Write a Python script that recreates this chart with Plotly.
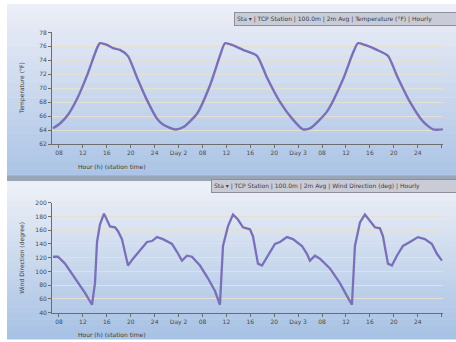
import plotly.graph_objects as go

W, H = 456, 342

# ---------------- data ----------------
top_hours = [0.17, 1.34, 2.68, 4.18, 5.85, 7.53, 8.03, 9.2, 10.2, 11.37, 12.71, 14.21, 15.89, 17.56,
             18.56, 20.57, 21.91, 24.25, 26.42, 28.09, 28.93, 30.1, 31.94, 34.28, 35.95, 38.13, 40.3,
             41.97, 43.14, 45.99, 48.66, 50.33, 51.17, 52.34, 54.35, 56.19, 57.69, 59.87, 62.04, 63.71, 65.38]
top_temp = [64.25, 64.95, 66.2, 68.45, 71.8, 75.75, 76.45, 76.2, 75.75, 75.5, 74.6, 71.55, 68.3, 65.65,
            64.8, 64.1, 64.4, 66.35, 70.4, 74.65, 76.45, 76.2, 75.5, 74.65, 71.55, 68.05, 65.5,
            64.1, 64.25, 66.65, 71.25, 75.05, 76.45, 76.2, 75.5, 74.65, 71.8, 68.05, 65.25, 64.1, 64.1]

bot_hours = [0.17, 1.0, 2.17, 3.85, 5.52, 6.69, 7.19, 7.53, 8.03, 8.7, 9.7, 10.54, 11.04, 11.7, 12.71,
             13.55, 14.72, 15.89, 16.72, 17.56, 18.56, 20.07, 20.9, 21.74, 22.58, 23.41, 24.75, 26.09,
             27.26, 28.09, 28.6, 29.43, 30.27, 31.1, 31.94, 33.11, 33.61, 34.45, 35.12, 36.12, 37.29,
             38.13, 39.3, 40.3, 41.81, 42.64, 43.14, 43.98, 44.82, 46.49, 48.16, 49.33, 50.17, 50.67,
             51.51, 52.34, 53.18, 54.01, 54.85, 55.35, 56.19, 56.86, 57.69, 58.7, 59.87, 61.2, 62.37,
             63.55, 64.38, 65.22]
bot_wind = [121.4, 121.4, 111.4, 90, 68.6, 51.4, 82.9, 142.9, 168.6, 184.3, 165.7, 164.3, 158.6, 147.1, 108.6,
            118.6, 130, 142.9, 144.3, 150, 147.1, 140, 128.6, 115.7, 122.9, 121.4, 108.6, 90,
            71.4, 51.4, 137.1, 165.7, 182.9, 175.7, 164.3, 161.4, 151.4, 111.4, 108.6, 122.9, 140,
            142.9, 150, 147.1, 137.1, 125.7, 115.7, 122.9, 118.6, 104.3, 82.9, 64.3, 51.4, 137.1,
            171.4, 182.9, 172.9, 164.3, 162.9, 151.4, 111.4, 108.6, 122.9, 137.1, 142.9, 150, 147.1,
            140, 125.7, 115.7]

x_tick_vals = [1.17, 5.17, 9.17, 13.17, 17.17, 21.17, 25.17, 29.17, 33.17, 37.17, 41.17, 45.17,
               49.17, 53.17, 57.17, 61.17, 65.17]
x_tick_text = ["08", "12", "16", "20", "24", "Day 2", "08", "12", "16", "20", "Day 3",
               "08", "12", "16", "20", "24", ""]
top_ticks = [62, 64, 66, 68, 70, 72, 74, 76, 78]
bot_ticks = [40, 60, 80, 100, 120, 140, 160, 180, 200]

LINE = "#7a70b8"


def px(x):
    return x / W


def py(y):
    return 1 - y / H


fig = go.Figure()
fig.add_trace(go.Scatter(x=top_hours, y=top_temp, mode="lines", xaxis="x", yaxis="y",
                         line=dict(color=LINE, width=2.4, shape="spline", smoothing=0.6),
                         showlegend=False))
fig.add_trace(go.Scatter(x=bot_hours, y=bot_wind, mode="lines", xaxis="x2", yaxis="y2",
                         line=dict(color=LINE, width=2.3),
                         showlegend=False))

# ------------- background gradient panels -------------
shapes = []


def lerp(c1, c2, t):
    return "rgb(%d,%d,%d)" % tuple(int(a + (b - a) * t) for a, b in zip(c1, c2))


def gradient(y0, y1, c1, c2, n=24):
    step = (y1 - y0) / n
    for i in range(n):
        shapes.append(dict(type="rect", xref="paper", yref="paper", layer="below",
                           x0=px(7), x1=1, y0=py(y0 + step * (i + 1) + 0.5), y1=py(y0 + step * i),
                           fillcolor=lerp(c1, c2, i / (n - 1)), line=dict(width=0)))


gradient(0, 176, (236, 238, 247), (172, 197, 230))
shapes.append(dict(type="rect", xref="paper", yref="paper", layer="below",
                   x0=px(7), x1=1, y0=py(181), y1=py(175), fillcolor="#98a6b8", line=dict(width=0)))
gradient(181, 342, (238, 240, 247), (168, 194, 229))
fig.update_layout(shapes=shapes)

axis_common = dict(showline=True, linecolor="#6d6d6d", linewidth=1, ticks="outside", ticklen=3,
                   tickcolor="#6d6d6d", tickfont=dict(family="DejaVu Sans", size=6, color="#4a4a4a"),
                   zeroline=False)

fig.update_layout(
    width=W, height=H, margin=dict(l=0, r=0, t=0, b=0),
    paper_bgcolor="white", plot_bgcolor="#fefefc",
    xaxis=dict(domain=[px(52), px(443)], anchor="y", range=[0, 65.4],
               tickvals=x_tick_vals, ticktext=x_tick_text, showgrid=False, **axis_common),
    yaxis=dict(domain=[py(143), py(29)], anchor="x", range=[62, 78], tickvals=top_ticks,
               showgrid=True, gridcolor="#e4e0d4", gridwidth=1, **axis_common),
    xaxis2=dict(domain=[px(52), px(443)], anchor="y2", range=[0, 65.4],
                tickvals=x_tick_vals, ticktext=x_tick_text, showgrid=False, **axis_common),
    yaxis2=dict(domain=[py(315), py(203)], anchor="x2", range=[40, 200], tickvals=bot_ticks,
                showgrid=True, gridcolor="#e4e0d4", gridwidth=1, **axis_common),
)

font_small = dict(family="DejaVu Sans", size=6, color="#3c3c3c")
ann = [
    dict(text="Temperature (°F)", x=px(22), y=py(86), textangle=-90),
    dict(text="Wind Direction (degree)", x=px(22), y=py(259), textangle=-90),
    dict(text="Hour (h) (station time)", x=px(112), y=py(166)),
    dict(text="Hour (h) (station time)", x=px(112), y=py(337)),
]
annotations = []
for a in ann:
    a.update(xref="paper", yref="paper", showarrow=False, font=font_small,
             xanchor="center", yanchor="middle")
    annotations.append(a)

annotations.append(dict(text="Sta ▾ | TCP Station | 100.0m | 2m Avg | Temperature (°F) | Hourly",
                        xref="paper", yref="paper", x=px(234), y=py(15), xanchor="left",
                        yanchor="middle", showarrow=False, bgcolor="#c9cbd6", width=224, align="left",
                        bordercolor="#8d8f9c", borderwidth=1, borderpad=2,
                        font=dict(family="DejaVu Sans", size=6, color="#3c3c4a")))
annotations.append(dict(text="Sta ▾ | TCP Station | 100.0m | 2m Avg | Wind Direction (deg) | Hourly",
                        xref="paper", yref="paper", x=px(211), y=py(186), xanchor="left",
                        yanchor="middle", showarrow=False, bgcolor="#c9cbd6", width=246, align="left",
                        bordercolor="#8d8f9c", borderwidth=1, borderpad=2,
                        font=dict(family="DejaVu Sans", size=6, color="#3c3c4a")))
fig.update_layout(annotations=annotations)

fig.write_html("out.html")
